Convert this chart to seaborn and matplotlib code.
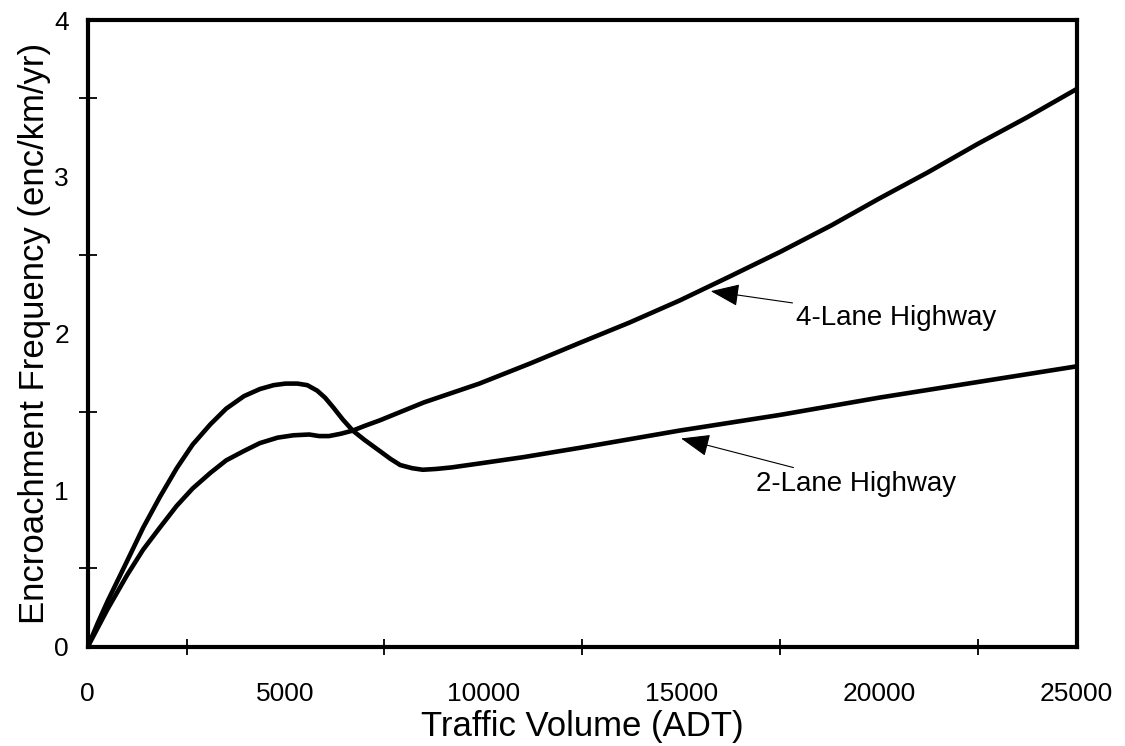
import numpy as np
import pandas as pd
import seaborn as sns
import matplotlib.pyplot as plt
from matplotlib.ticker import MultipleLocator

# values
adt_2lane = [0, 250, 500, 750, 1000, 1400, 1820, 2250, 2650, 3100, 3500, 3950, 4350, 4700,
             5000, 5300, 5550, 5800, 6000, 6200, 6450, 6700, 7000, 7380, 7650, 7900, 8200,
             8470, 8800, 9200, 9900, 11000, 12440, 14960, 17500, 20000, 22500, 25000]
enc_2lane = [0, 0.15, 0.29, 0.42, 0.55, 0.76, 0.955, 1.14, 1.29, 1.42, 1.52, 1.60, 1.645, 1.67,
             1.68, 1.68, 1.67, 1.635, 1.59, 1.53, 1.45, 1.38, 1.32, 1.25, 1.20, 1.16, 1.14,
             1.13, 1.135, 1.145, 1.17, 1.21, 1.27, 1.38, 1.48, 1.59, 1.69, 1.79]

adt_4lane = [0, 250, 500, 750, 1000, 1400, 1820, 2250, 2650, 3100, 3500, 3950, 4350, 4800,
             5200, 5600, 5850, 6100, 6400, 6700, 7000, 7380, 8500, 9900, 11200, 12440,
             13700, 14960, 16200, 17500, 18800, 20000, 21250, 22500, 23750, 25000]
enc_4lane = [0, 0.12, 0.24, 0.35, 0.46, 0.62, 0.76, 0.90, 1.01, 1.11, 1.19, 1.25, 1.30, 1.335,
             1.35, 1.355, 1.345, 1.345, 1.36, 1.38, 1.41, 1.445, 1.56, 1.68, 1.81, 1.94,
             2.07, 2.21, 2.36, 2.52, 2.69, 2.86, 3.03, 3.21, 3.38, 3.56]

labels = ["2-Lane Highway", "4-Lane Highway"]

df = pd.concat([
    pd.DataFrame({"adt": adt_2lane, "enc": enc_2lane, "road": labels[0]}),
    pd.DataFrame({"adt": adt_4lane, "enc": enc_4lane, "road": labels[1]}),
])

sns.set_style("white")
plt.rcParams['font.family'] = ['Liberation Sans', 'DejaVu Sans']
plt.rcParams['text.color'] = 'black'
plt.rcParams['axes.labelcolor'] = 'black'
plt.rcParams['xtick.color'] = 'black'
plt.rcParams['ytick.color'] = 'black'

fig = plt.figure(figsize=(11.25, 7.46), dpi=100)
ax = fig.add_axes([0.078, 0.133, 0.879, 0.84])

sns.lineplot(data=df, x="adt", y="enc", units="road", estimator=None, sort=False,
             color="black", linewidth=3.3, ax=ax, legend=False)
for ln in ax.lines:
    ln.set_solid_joinstyle("round")

ax.set_xlim(0, 25000)
ax.set_ylim(0, 4)
ax.xaxis.set_major_locator(MultipleLocator(5000))
ax.xaxis.set_minor_locator(MultipleLocator(2500))
ax.yaxis.set_major_locator(MultipleLocator(1))
ax.yaxis.set_minor_locator(MultipleLocator(0.5))

for s in ax.spines.values():
    s.set_linewidth(3)
    s.set_color("black")

ax.tick_params(axis='x', which='major', direction='inout', length=15, width=1.3, pad=18, labelsize=19)
ax.tick_params(axis='x', which='minor', direction='inout', length=11, width=1.3, bottom=True)
ax.tick_params(axis='y', which='major', direction='inout', length=19, width=1.3, pad=4, labelsize=19)
ax.tick_params(axis='y', which='minor', direction='inout', length=13, width=1.3, left=True)

ax.set_xlabel("Traffic Volume (ADT)", fontsize=25, labelpad=3)
ax.set_ylabel("Encroachment Frequency (enc/km/yr)", fontsize=25, labelpad=2)

arrow = dict(arrowstyle="-|>,head_length=0.9,head_width=0.35", color="black", lw=0.8,
             shrinkA=0, shrinkB=0)
ax.annotate(labels[1], xy=(15750, 2.27), xytext=(17900, 2.1), fontsize=20,
            va="center", ha="left", arrowprops=arrow)
ax.annotate(labels[0], xy=(15000, 1.33), xytext=(16900, 1.04), fontsize=20,
            va="center", ha="left", arrowprops=arrow)

fig.savefig("out.png", dpi=100)
